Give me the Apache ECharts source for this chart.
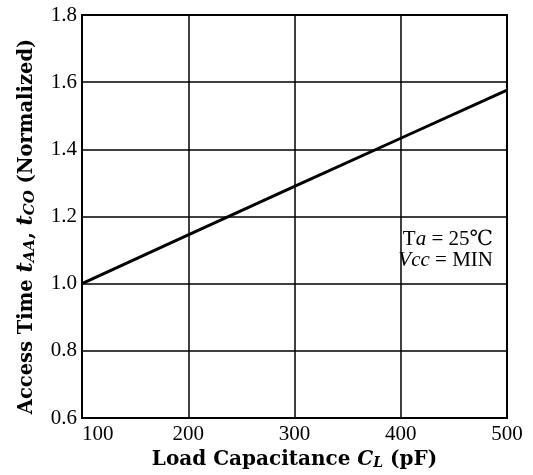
<!DOCTYPE html>
<html>
<head>
<meta charset="utf-8">
<script src="https://cdn.jsdelivr.net/npm/echarts@6/dist/echarts.min.js"></script>
<style>html,body{margin:0;padding:0;background:#fff}#c{width:533px;height:475px}</style>
</head>
<body>
<div id="c"></div>
<script>
var capacitance = [100, 200, 300, 400, 500];
var accessTime = [1.0, 1.145, 1.29, 1.433, 1.576];
var xTicks = [100, 200, 300, 400, 500];
var yTicks = [0.6, 0.8, 1.0, 1.2, 1.4, 1.6, 1.8];

var chart = echarts.init(document.getElementById('c'));
var serif = '"Liberation Serif", "DejaVu Serif", serif';
var serifB = '"DejaVu Serif", "Liberation Serif", serif';
chart.setOption({
  animation: false,
  backgroundColor: '#fff',
  grid: { left: 82, right: 26, top: 15, bottom: 57, outerBoundsMode: 'none', containLabel: false, show: true, borderColor: '#000', borderWidth: 2, backgroundColor: 'transparent' },
  xAxis: {
    type: 'value', min: xTicks[0], max: xTicks[xTicks.length - 1], interval: 100,
    axisLine: { show: true, lineStyle: { color: '#000', width: 2 } },
    axisTick: { show: false },
    splitLine: { show: true, lineStyle: { color: '#000', width: 1.5 } },
    axisLabel: { color: '#000', fontFamily: serif, fontSize: 21, margin: 6, alignMinLabel: 'left' },
    name: '{b|Load Capacitance }{i|C}{s|L}{b| (pF)}',
    nameLocation: 'middle', nameGap: 31,
    nameTextStyle: {
      rich: {
        b: { fontFamily: serifB, fontWeight: 'bold', fontSize: 20, color: '#000' },
        i: { fontFamily: serifB, fontWeight: 'bold', fontStyle: 'italic', fontSize: 20, color: '#000' },
        s: { fontFamily: serifB, fontWeight: 'bold', fontStyle: 'italic', fontSize: 14, color: '#000', padding: [7, 0, 0, 0] }
      }
    }
  },
  yAxis: {
    type: 'value', min: yTicks[0], max: yTicks[yTicks.length - 1], interval: 0.2,
    axisLine: { show: true, lineStyle: { color: '#000', width: 2 } },
    axisTick: { show: false },
    splitLine: { show: true, lineStyle: { color: '#000', width: 1.5 } },
    axisLabel: { color: '#000', fontFamily: serif, fontSize: 21, margin: 5, formatter: function (v) { return v.toFixed(1); } },
    name: '{b|Access Time }{i|t}{s|AA}{b|, }{i|t}{s|CO}{b| (Normalized)}',
    nameLocation: 'middle', nameGap: 44, nameRotate: 90,
    nameTextStyle: {
      padding: [0, 20, 0, 0],
      rich: {
        b: { fontFamily: serifB, fontWeight: 'bold', fontSize: 19.5, color: '#000' },
        i: { fontFamily: serifB, fontWeight: 'bold', fontStyle: 'italic', fontSize: 22, color: '#000' },
        s: { fontFamily: serifB, fontWeight: 'bold', fontStyle: 'italic', fontSize: 15, color: '#000', padding: [8, 0, 0, 0] }
      }
    }
  },
  graphic: [{
    type: 'text', right: 40, top: 229,
    style: {
      text: '{r|T}{i|a}{r| = 25\u2103}\n{i|Vcc}{r| = MIN}',
      align: 'right',
      rich: {
        r: { fontFamily: serif, fontSize: 21, color: '#000', lineHeight: 21, align: 'right' },
        i: { fontFamily: serif, fontStyle: 'italic', fontSize: 21, color: '#000', lineHeight: 21, align: 'right' }
      },
      backgroundColor: '#fff'
    }
  }],
  series: [{
    type: 'line',
    data: capacitance.map(function (c, i) { return [c, accessTime[i]]; }),
    symbol: 'none',
    lineStyle: { color: '#000', width: 3 }
  }]
});
</script>
</body>
</html>
